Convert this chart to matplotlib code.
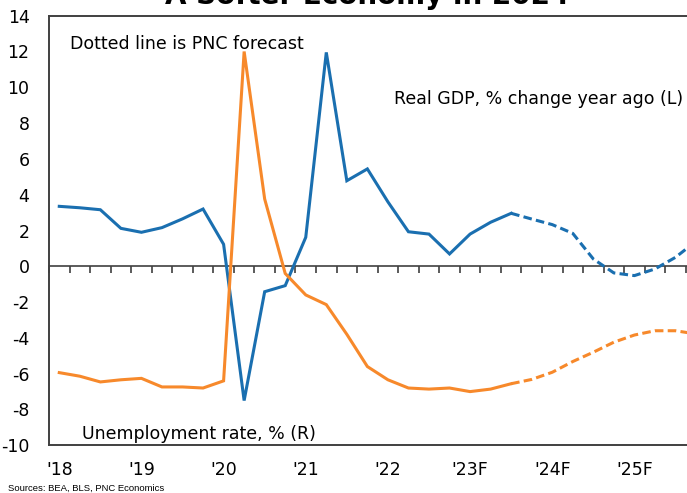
import matplotlib.pyplot as plt

plt.rcParams['axes.unicode_minus'] = False

# quarterly, 2018Q1 .. 2025Q4
quarters = [f"{y}Q{q}" for y in range(2018, 2026) for q in range(1, 5)]
year_labels = ["'18", "'19", "'20", "'21", "'22", "'23F", "'24F", "'25F"]

# real GDP, % change year ago (left axis)
gdp_actual = [3.35, 3.27, 3.16, 2.12, 1.90, 2.16, 2.65, 3.20,
              1.23, -7.50, -1.42, -1.08, 1.62, 11.95, 4.78, 5.44,
              3.60, 1.93, 1.80, 0.69, 1.80, 2.46, 2.96]
gdp_forecast = [2.96, 2.64, 2.33, 1.84, 0.41, -0.37, -0.52, -0.15, 0.50, 1.40]

# unemployment rate, % (right axis)
unemp_actual = [4.03, 3.93, 3.77, 3.83, 3.87, 3.63, 3.63, 3.60,
                3.80, 13.0, 8.88, 6.80, 6.20, 5.93, 5.10, 4.20,
                3.83, 3.60, 3.57, 3.60, 3.50, 3.57, 3.72]
unemp_forecast = [3.72, 3.84, 4.04, 4.34, 4.60, 4.88, 5.08, 5.20, 5.20, 5.11]

blue = '#1A6FB0'
orange = '#F7892B'
axis_col = '#404040'
dashes = (0, (2.8, 1.4))

n_act = len(gdp_actual)
x_act = list(range(n_act))
x_fc = list(range(n_act - 1, len(quarters)))

fig = plt.figure(figsize=(6.87, 4.93), dpi=100)
ax = fig.add_axes([49 / 687, 1 - 445.3 / 493, 32 * 20.54 / 687, (445.3 - 15.7) / 493])
ax2 = ax.twinx()

ax.plot(x_act, gdp_actual, color=blue, lw=2.2, solid_joinstyle='miter', zorder=3)
ax.plot(x_fc, gdp_forecast, color=blue, lw=2.2, ls=dashes, zorder=3)
ax2.plot(x_act, unemp_actual, color=orange, lw=2.2, solid_joinstyle='miter', zorder=3)
ax2.plot(x_fc, unemp_forecast, color=orange, lw=2.2, ls=dashes, zorder=3)

ax.set_xlim(-0.5, len(quarters) - 0.5)
ax.set_ylim(-10, 14)
ax.set_yticks(range(-10, 15, 2))
ax2.set_ylim(2, 14)
ax2.set_yticks([])

ax.set_xticks(range(0, len(quarters), 4))
ax.set_xticklabels(year_labels)
ax.tick_params(axis='x', length=0, pad=11, labelsize=12.5)
ax.tick_params(axis='y', length=0, pad=14, labelsize=12.5)

for a in (ax, ax2):
    for side in ('left', 'top', 'bottom'):
        a.spines[side].set_color(axis_col)
        a.spines[side].set_linewidth(1.2)
    a.spines['right'].set_visible(False)

# zero line with quarter tick marks
zero_ax = ax.secondary_xaxis(10 / 24)
zero_ax.set_xticks([i - 0.5 for i in range(len(quarters) + 1)])
zero_ax.set_xticklabels([])
zero_ax.tick_params(axis='x', direction='out', length=5, width=1.2, color=axis_col)
zero_ax.spines['bottom'].set_color(axis_col)
zero_ax.spines['bottom'].set_linewidth(1.2)

ax.text(0.52, 12.42, 'Dotted line is PNC forecast', fontsize=12.5, va='center', ha='left')
ax.text(16.3, 9.35, 'Real GDP, % change year ago (L)', fontsize=12.5, va='center', ha='left')
ax.text(1.1, -9.37, 'Unemployment rate, % (R)', fontsize=12.5, va='center', ha='left')

fig.text(367 / 687, 1 - 4.0 / 493, 'A Softer Economy in 2024', fontsize=20,
         fontweight='bold', ha='center', va='baseline')
fig.text(8 / 687, 1 - 488 / 493, 'Sources: BEA, BLS, PNC Economics', fontsize=6.8,
         family='Liberation Sans', ha='left', va='center')

fig.savefig('out.png', dpi=100)
